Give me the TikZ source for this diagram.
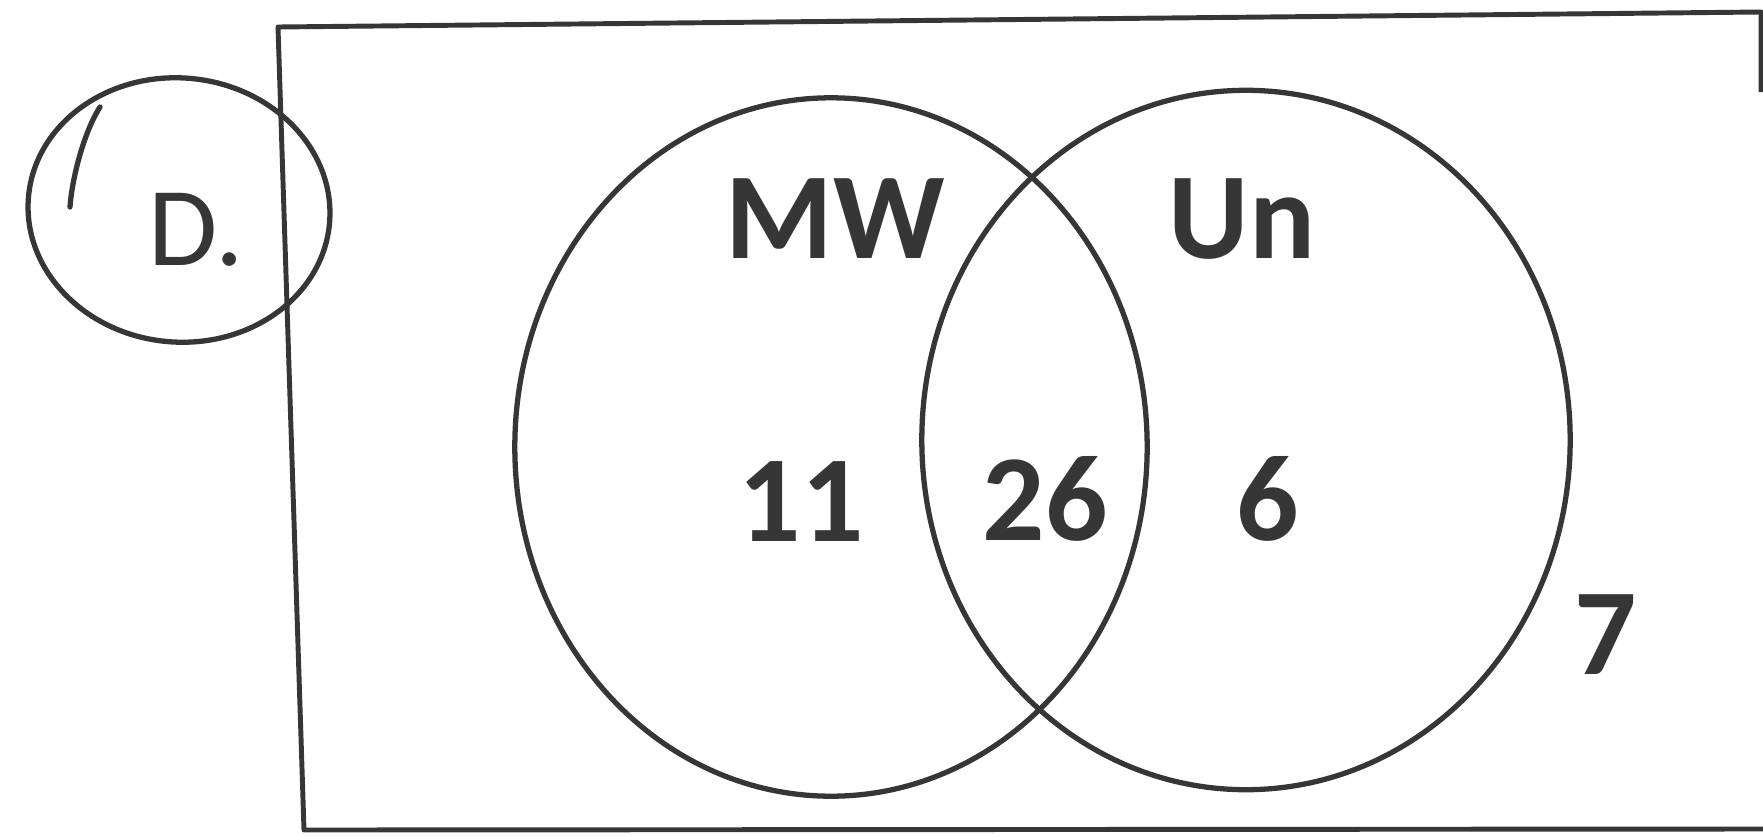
\documentclass[tikz,border=0pt]{standalone}
\usepackage{fontspec}
\setmainfont{Carlito}
\usetikzlibrary{shapes.geometric}
\definecolor{ink}{HTML}{363636}
\begin{document}
\begin{tikzpicture}[x=0.01cm, y=-0.01cm,
    set/.style={ellipse, draw=ink, line width=1.5pt, inner sep=0pt},
    lbl/.style={text=ink, inner sep=0pt, anchor=base,
        font=\fontsize{35}{40}\selectfont\bfseries}]
    \useasboundingbox (0,0) rectangle (1763,836);
    % frame
    \coordinate (tr) at (1761,12);
    \coordinate (tl) at (278,27);
    \coordinate (bl) at (304,830);
    \coordinate (br) at (1763,829);
    \draw[ink, line width=1.4pt, line join=round]
        (1761,92)--(tr)--(tl)--(bl)--(br);
    % sets
    \node[set, minimum width=6.32cm, minimum height=6.98cm] (mw) at (831,447) {};
    \node[set, minimum width=6.48cm, minimum height=6.99cm] (un) at (1246,440) {};
    % circled answer
    \node[set, minimum width=3.02cm, minimum height=2.64cm, rotate=-5] (pick) at (179,210) {};
    \draw[ink, line width=1.5pt, line cap=round]
        (70,207) .. controls (72,178) and (84,132) .. (100,107);
    \node[lbl, font=\fontsize{32}{36}\selectfont] (letter) at (196,265) {D.};
    % labels
    \node[lbl] (mwname) at (835,258) {MW};
    \node[lbl] (unname) at (1242,258) {Un};
    \node[lbl] (onlymw) at (801,541) {11};
    \node[lbl] (both) at (1045,540) {26};
    \node[lbl] (onlyun) at (1268,540) {6};
    \node[lbl] (neither) at (1606,674) {7};
\end{tikzpicture}
\end{document}
